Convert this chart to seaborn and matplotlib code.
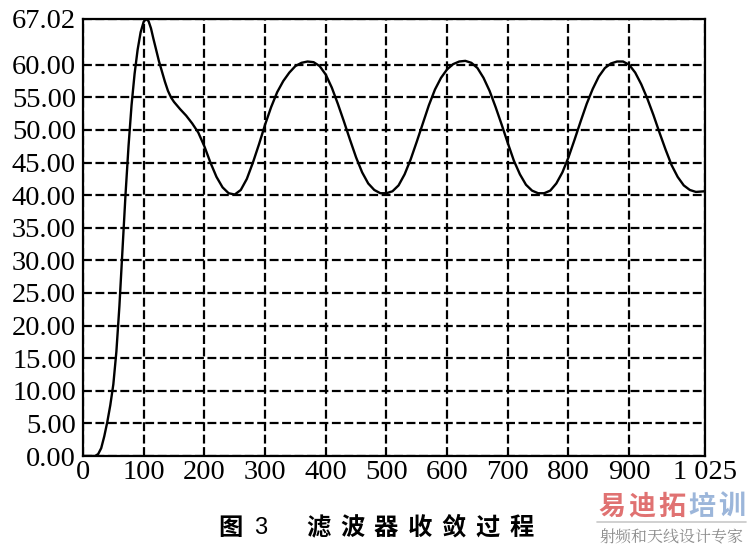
import matplotlib
matplotlib.use("Agg")
import matplotlib.pyplot as plt
import seaborn as sns
import pandas as pd

# ---- data ----
iterations = [0, 10, 20, 25, 30, 35, 40, 45, 50, 55, 60, 65, 70, 75, 80, 85, 90, 95,
              100, 104, 108, 112, 116, 120, 125, 130, 135, 140, 145, 150, 160, 170, 180,
              190, 200, 210, 220, 230, 240, 250, 260, 270, 280, 290, 300, 310, 320,
              330, 340, 350, 360, 370, 380, 390, 400, 410, 420, 430, 440, 450, 460,
              470, 480, 490, 500, 510, 520, 530, 540, 550, 560, 570, 580, 590, 600,
              610, 620, 630, 640, 650, 660, 670, 680, 690, 700, 710, 720, 730, 740,
              750, 760, 770, 780, 790, 800, 810, 820, 830, 840, 850, 860, 870, 880,
              890, 900, 910, 920, 930, 940, 950, 960, 970, 980, 990, 1000, 1010, 1025]
output = [0.0, 0.0, 0.0, 0.3, 1.2, 3.0, 5.2, 7.8, 11.0, 16.0, 23.0, 31.5, 40.0, 47.5,
          53.8, 58.6, 62.3, 65.0, 66.6, 67.02, 66.7, 65.6, 64.0, 62.5, 60.6, 59.0, 57.4,
          56.0, 55.0, 54.3, 53.2, 52.2, 51.0, 49.6, 47.5, 45.0, 42.8, 41.2, 40.3, 40.1,
          40.8, 42.5, 45.0, 47.8, 50.8, 53.5, 55.8, 57.5, 58.8, 59.8, 60.3, 60.5, 60.4,
          59.8, 58.5, 56.5, 54.0, 51.3, 48.5, 45.8, 43.5, 41.8, 40.8, 40.3, 40.3, 40.6,
          41.5, 43.2, 45.5, 48.2, 51.0, 53.8, 56.2, 58.0, 59.3, 60.1, 60.5, 60.6, 60.3,
          59.5, 58.0, 56.0, 53.5, 50.8, 48.0, 45.3, 43.2, 41.6, 40.7, 40.3, 40.3, 40.7,
          41.8, 43.5, 45.8, 48.5, 51.3, 54.0, 56.3, 58.2, 59.5, 60.2, 60.5, 60.5, 60.0,
          58.8, 57.0, 54.8, 52.3, 49.6, 47.0, 44.6, 42.8, 41.5, 40.8, 40.5, 40.6]

x_ticks = [0, 100, 200, 300, 400, 500, 600, 700, 800, 900, 1025]
x_tick_labels = ["0", "100", "200", "300", "400", "500", "600", "700", "800", "900", "1 025"]
y_ticks = [0, 5, 10, 15, 20, 25, 30, 35, 40, 45, 50, 55, 60, 67.02]
y_tick_labels = ["0.00", "5.00", "10.00", "15.00", "20.00", "25.00", "30.00", "35.00",
                 "40.00", "45.00", "50.00", "55.00", "60.00", "67.02"]

caption_fig = "图"
caption_num = "3"
caption_title = "滤波器收敛过程"
wm_red = "易迪拓"
wm_blue = "培训"
wm_sub = "射频和天线设计专家"

df = pd.DataFrame({"iter": iterations, "value": output})

sns.set_theme(style="white")
plt.rcParams["font.family"] = ["Liberation Serif", "DejaVu Serif"]

W, H = 749, 548
fig = plt.figure(figsize=(W / 100, H / 100), dpi=100)
ax = fig.add_axes([83 / W, 1 - 456 / H, (705 - 83) / W, (456 - 19) / H])

sns.lineplot(data=df, x="iter", y="value", ax=ax, color="black", linewidth=1.7)

ax.set_xlim(0, 1025)
ax.set_ylim(0, 67.02)
ax.set_xticks(x_ticks)
ax.set_xticklabels(x_tick_labels)
ax.set_yticks(y_ticks)
ax.set_yticklabels(y_tick_labels)
ax.tick_params(axis="both", length=0, labelsize=20.5, colors="black")
ax.tick_params(axis="y", pad=5)
ax.tick_params(axis="x", pad=3)
ax.set_xlabel("")
ax.set_ylabel("")
ax.grid(True, color="black", linestyle=(0, (4, 1.6)), linewidth=1.6)
for s in ax.spines.values():
    s.set_color("black")
    s.set_linewidth(1.6)
    s.set_visible(True)

# caption
cjk = ["Noto Sans CJK SC", "DejaVu Sans"]
cy = 1 - 528 / H
fig.text(230 / W, cy, caption_fig, family=cjk, fontsize=17.5, fontweight="bold",
         ha="center", va="center", color="black")
fig.text(261 / W, cy, caption_num, family=["Liberation Sans"], fontsize=17,
         ha="center", va="center", color="black")
x0, step = 318.5, 33.8
for i, ch in enumerate(caption_title):
    fig.text((x0 + i * step) / W, cy, ch,
             family=cjk, fontsize=17.5, fontweight="bold", ha="center", va="center",
             color="black")

# watermark
wy = 1 - 507 / H
for i, ch in enumerate(wm_red + wm_blue):
    col = "#e07272" if i < 3 else "#9cb6da"
    fig.text((612 + i * 30) / W, wy, ch, family=cjk, fontsize=19.5, fontweight="black",
             ha="center", va="center", color=col)
fig.add_artist(plt.Line2D([597 / W, 746 / W], [1 - 522 / H, 1 - 522 / H],
                          color="#c8c8c8", linewidth=1.2))
fig.text(671 / W, 1 - 537 / H, wm_sub, family=["Noto Serif CJK SC", "Noto Sans CJK SC"],
         fontsize=11.5, ha="center", va="center", color="#8a8a8a")

fig.savefig("out.png", dpi=100)
